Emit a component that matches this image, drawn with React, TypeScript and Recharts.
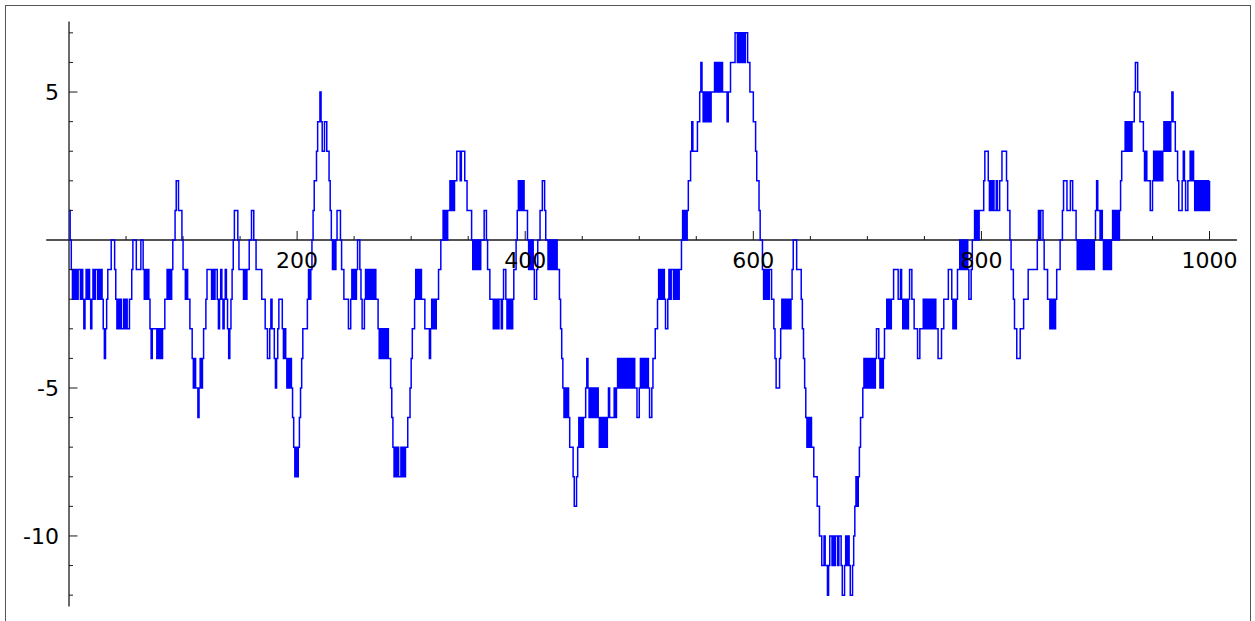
import React from 'react';
import { LineChart, Line, XAxis, YAxis, ReferenceLine } from 'recharts';

// Random-walk breakpoints: [step, value], value holds until next step
const walkStart: [number, number][] = [
  [0,1],[1,0],[2,-1],[3,-2],[4,-1],[5,-2],[6,-1],[7,-2],[8,-1],[10,-2],[11,-1],[12,-2],[13,-3],[14,-2],[15,-1],[16,-2],[17,-1],[18,-2],[19,-3],[20,-2],[21,-1],[22,-2],[23,-1],[25,-2],[26,-1],[27,-2],[28,-1],[29,-2],[30,-3],[31,-4],[32,-3],[33,-2],[34,-1],[37,0],[40,-1],[41,-2],[42,-3],[43,-2],[44,-3],[45,-2],[46,-3],[48,-2],[49,-3],[50,-2],[51,-3],[53,-2],
  [55,-1],[56,0],[59,-1],[63,0],[65,-1],[66,-2],[67,-1],[68,-2],[69,-1],[70,-2],[71,-3],[72,-4],[73,-3],[77,-4],[78,-3],[79,-4],[80,-3],[81,-4],[82,-3],[84,-2],[86,-1],[87,-2],[88,-1],[89,-2],[90,-1],[91,0],[93,1],[94,2],[96,1],[99,0],[100,-1],[102,-2],[103,-1],[104,-2],[106,-3],[108,-4],[109,-5],[110,-4],[111,-5],[113,-6],[114,-5],[115,-4],[116,-5],[117,-4],[118,-3],[120,-2],[121,-1],[125,-2],[126,-1],[127,-2],[128,-1],[130,-2],[131,-3],[132,-2],[133,-1],[134,-2],[135,-3],[136,-2],[137,-1],[138,-2],[139,-3],[140,-4],[141,-3],[142,-2],[143,-1],[144,0],[145,1],[148,0],
];
const walkEarly: [number, number][] = [
  [149,-1],[153,-2],[154,-1],[155,-2],[156,-1],[158,0],[160,1],[162,0],[164,-1],[169,-2],[172,-3],[174,-4],[176,-3],[177,-2],[178,-3],[180,-4],[181,-5],[182,-4],[183,-3],[184,-2],[187,-3],[188,-4],[189,-3],[190,-4],[191,-5],[192,-4],[193,-5],[194,-4],[195,-5],[196,-6],[197,-7],[198,-8],[199,-7],[200,-8],[201,-7],[202,-6],[203,-5],[204,-4],[205,-3],[209,-2],[210,-1],[211,-2],[212,-1],[213,0],[214,1],[215,2],[217,3],[218,4],[220,5],[221,4],[222,3],[224,4],[226,3],[228,2],[229,1],[230,0],[231,-1],[232,0],[233,-1],[234,0],[235,1],[238,0],[239,-1],[241,-2],
  [245,-3],[247,-2],[248,-1],[249,-2],[250,-1],[251,-2],[252,-1],[253,0],[255,-1],[256,-2],[257,-3],[259,-2],[260,-1],[261,-2],[262,-1],[263,-2],[264,-1],[265,-2],[266,-1],[267,-2],[268,-1],[269,-2],[271,-3],[272,-4],[273,-3],[274,-4],[275,-3],[276,-4],[277,-3],[278,-4],[279,-3],[280,-4],[282,-5],[283,-6],[284,-7],[285,-8],[286,-7],[287,-8],[288,-7],[289,-8],[291,-7],[292,-8],[293,-7],[294,-8],[295,-7],[297,-6],[299,-5],[300,-4],[301,-3],[303,-2],[304,-1],[305,-2],[306,-1],[307,-2],[308,-1],[309,-2],[312,-3],[316,-4],[317,-3],[318,-2],[319,-3],[320,-2],[321,-3],[322,-2],[324,-1],[326,0],[328,1],[329,0],[330,1],[331,0],[332,1],[334,2],[335,1],[336,2],[337,1],[338,2],[340,3],
];
const walkMiddle: [number, number][] = [
  [343,2],[344,3],[347,2],[349,1],[353,0],[354,-1],[355,0],[356,-1],[357,0],[358,-1],[359,0],[360,-1],[361,0],[364,1],[366,0],[367,-1],[369,-2],[372,-3],[373,-2],[374,-3],[375,-2],[376,-3],[377,-2],[379,-3],[380,-2],[381,-1],[383,-2],[384,-3],[385,-2],[386,-3],[387,-2],[388,-3],[389,-2],[390,-1],[392,0],[393,1],[394,2],[395,1],[396,2],[397,1],[398,2],[399,1],[402,0],[403,-1],[404,0],[405,-1],[406,0],[407,-1],[408,-2],[410,-1],[411,0],[413,1],[415,2],[417,1],[418,0],[420,-1],[421,0],[422,-1],[423,0],[424,-1],[425,0],[426,-1],[427,0],[428,-1],
  [430,-2],[431,-3],[432,-4],[433,-5],[434,-6],[435,-5],[436,-6],[437,-5],[438,-6],[439,-7],[442,-8],[443,-9],[445,-8],[446,-7],[447,-6],[448,-7],[449,-6],[450,-7],[451,-6],[453,-5],[454,-4],[455,-5],[456,-6],[457,-5],[458,-6],[459,-5],[460,-6],[461,-5],[462,-6],[463,-5],[464,-6],[465,-7],[466,-6],[467,-7],[468,-6],[469,-7],[470,-6],[471,-7],[472,-6],[473,-5],[474,-6],[478,-5],[479,-6],[480,-5],[481,-4],[482,-5],[483,-4],[484,-5],[485,-4],[486,-5],[487,-4],[488,-5],[489,-4],[490,-5],[491,-4],[492,-5],[493,-4],[494,-5],[495,-4],[496,-5],[498,-6],[500,-5],[501,-4],[502,-5],[503,-4],[504,-5],[505,-4],[506,-5],[507,-4],[508,-5],[509,-6],[511,-5],[512,-4],[514,-3],[516,-2],[517,-1],[518,-2],[519,-1],[520,-2],[521,-1],[522,-2],[523,-3],[525,-2],[526,-1],[527,-2],[528,-1],[530,-2],[531,-1],[532,-2],[533,-1],[534,-2],[535,-1],
  [537,0],[538,1],[539,0],[540,1],[541,0],[542,1],[543,2],[545,3],[546,4],[547,3],[551,4],[553,5],[554,6],[555,5],[556,4],[557,5],[558,4],[559,5],[560,4],[561,5],[562,4],[563,5],[566,6],[567,5],[568,6],[569,5],[570,6],[571,5],[572,6],[573,5],[577,4],[578,5],[580,6],[584,7],[586,6],[587,7],[588,6],[589,7],[590,6],[591,7],[592,6],[593,7],[595,6],[597,5],[600,4],[602,3],[603,2],[605,1],[606,0],[608,-1],[609,-2],[610,-1],[611,-2],[612,-1],[613,-2],[614,-1],
];
const walkLate: [number, number][] = [
  [616,-2],[618,-3],[619,-4],[620,-5],[623,-4],[624,-3],[625,-2],[626,-3],[627,-2],[628,-3],[629,-2],[630,-3],[631,-2],[632,-3],[633,-2],[634,-1],[635,0],[638,-1],[642,-2],[643,-3],[644,-4],[645,-5],[646,-6],[647,-7],[648,-6],[649,-7],[650,-6],[651,-7],[653,-8],[656,-9],[658,-10],[660,-11],[662,-10],[663,-11],[665,-12],[666,-11],[667,-10],[669,-11],[670,-10],[671,-11],[672,-10],[674,-11],[675,-10],[677,-11],[678,-12],[680,-11],[681,-10],[682,-11],[683,-10],[684,-11],[685,-12],[687,-11],[688,-10],[689,-9],[690,-8],[691,-9],[692,-8],[693,-7],[694,-6],[695,-6],[696,-5],[697,-4],[698,-5],[699,-4],[700,-5],[701,-4],[702,-5],[703,-4],[704,-5],[705,-4],[706,-5],[707,-4],[708,-3],[710,-4],[711,-5],[712,-4],[713,-5],[714,-4],[715,-3],[717,-2],[718,-3],[719,-2],[720,-3],[721,-2],[723,-1],[727,-2],
  [729,-1],[730,-2],[731,-3],[732,-2],[733,-3],[734,-2],[735,-3],[736,-2],[737,-1],[739,-2],[741,-3],[744,-4],[746,-3],[749,-2],[750,-3],[751,-2],[752,-3],[753,-2],[754,-3],[755,-2],[756,-3],[757,-2],[758,-3],[759,-2],[760,-3],[762,-4],[765,-3],[767,-2],[771,-1],[774,-2],[775,-3],[776,-2],[777,-3],[778,-2],[779,-1],[781,0],[782,-1],[783,0],[784,-1],[785,0],[786,-1],[787,0],[788,-1],[789,-2],[791,-1],[792,0],[794,1],[795,0],[796,1],[797,0],[798,1],[802,2],[803,3],[806,2],[807,1],[808,2],[809,1],[810,2],[811,1],[813,2],[814,1],[816,2],[818,3],[822,2],[823,1],[825,0],[826,-1],[828,-2],[829,-3],
];
const walkEnd: [number, number][] = [
  [831,-4],[834,-3],[837,-2],[841,-1],[849,0],[850,1],[851,0],[852,1],[854,0],[855,-1],[858,-2],[860,-3],[861,-2],[862,-3],[863,-2],[864,-3],[865,-2],[866,-1],[869,0],[871,1],[872,2],[875,1],[878,2],[880,1],[883,0],[884,-1],[885,0],[886,-1],[887,0],[888,-1],[889,0],[890,-1],[891,0],[892,-1],[893,0],[894,-1],[895,0],[896,-1],[897,0],[898,-1],[899,0],[900,1],[901,2],[902,1],[904,0],[905,1],[906,0],[907,-1],[908,0],[909,-1],[910,0],[911,-1],[912,0],[913,-1],[914,0],[915,1],[916,0],[917,1],[918,0],[919,1],[920,0],[921,1],[922,2],[923,3],[926,4],
  [927,3],[928,4],[929,3],[930,4],[931,3],[932,4],[934,5],[935,6],[937,5],[939,4],[942,3],[943,2],[944,3],[945,2],[948,1],[950,2],[951,3],[952,2],[953,3],[954,2],[955,3],[956,2],[957,3],[958,2],[959,3],[960,4],[961,3],[962,4],[963,3],[964,4],[965,3],[966,4],[967,5],[968,4],[970,3],[972,2],[973,1],[976,2],[977,3],[978,2],[979,1],[981,2],[983,3],[984,2],[985,3],[986,2],[987,1],[988,2],[989,1],[990,2],[991,1],[992,2],[993,1],[994,2],[995,1],[996,2],[997,1],[998,2],[999,1],[1000,2],
];

const xTicks = [50,100,150,200,250,300,350,400,450,500,550,600,650,700,750,800,850,900,950,1000];
const xLabelTicks = [200,400,600,800,1000];
const yTicks = [-12,-11,-10,-9,-8,-7,-6,-5,-4,-3,-2,-1,1,2,3,4,5,6,7];
const yLabelTicks = [5,-5,-10];

const data = [...walkStart, ...walkEarly, ...walkMiddle, ...walkLate, ...walkEnd].map(([x, y]) => ({ x, y }));

const W = 1255;
const H = 621;
const X_DOMAIN: [number, number] = [-20, 1024];
const Y_DOMAIN: [number, number] = [-12.38, 7.38];
const MARGIN = { top: 21.6, right: 18.1, bottom: 14.6, left: 46.2 };
const PLOT_W = W - MARGIN.left - MARGIN.right;
const PLOT_H = H - MARGIN.top - MARGIN.bottom;
const ZERO_X = MARGIN.left + ((0 - X_DOMAIN[0]) / (X_DOMAIN[1] - X_DOMAIN[0])) * PLOT_W;
const ZERO_Y = MARGIN.top + ((Y_DOMAIN[1] - 0) / (Y_DOMAIN[1] - Y_DOMAIN[0])) * PLOT_H;

const FONT = 'DejaVu Sans, sans-serif';
const AXIS = '#1a1a1a';

const XTick = (props: any) => {
  const { x, payload } = props;
  const v = payload.value as number;
  const major = xLabelTicks.includes(v);
  return (
    <g>
      <line x1={x} x2={x} y1={ZERO_Y} y2={ZERO_Y - (major ? 9 : 4)} stroke={AXIS} strokeWidth={1} />
      {major && (
        <text x={x} y={ZERO_Y + 28} textAnchor="middle" fontFamily={FONT} fontSize={22} fill="#000">
          {v}
        </text>
      )}
    </g>
  );
};

const YTick = (props: any) => {
  const { y, payload } = props;
  const v = payload.value as number;
  const major = yLabelTicks.includes(v);
  return (
    <g>
      <line x1={ZERO_X} x2={ZERO_X + (major ? 8.5 : 4)} y1={y} y2={y} stroke={AXIS} strokeWidth={1} />
      {major && (
        <text x={ZERO_X - 10} y={y + 8} textAnchor="end" fontFamily={FONT} fontSize={22} fill="#000">
          {v}
        </text>
      )}
    </g>
  );
};

export default function App() {
  return (
    <div style={{ position: 'absolute', left: 0, top: 0, width: W, height: H, background: '#fff', overflow: 'hidden' }}>
      <div
        style={{
          position: 'absolute',
          left: 5,
          top: 5,
          width: 1246,
          height: 640,
          border: '1px solid #555',
          boxSizing: 'border-box',
        }}
      />
      <LineChart width={W} height={H} data={data} margin={MARGIN}>
        <XAxis
          dataKey="x"
          type="number"
          domain={X_DOMAIN}
          allowDataOverflow
          ticks={xTicks}
          interval={0}
          mirror
          axisLine={false}
          tickLine={false}
          tick={XTick}
        />
        <YAxis
          type="number"
          domain={Y_DOMAIN}
          allowDataOverflow
          ticks={yTicks}
          interval={0}
          mirror
          axisLine={false}
          tickLine={false}
          tick={YTick}
        />
        <ReferenceLine y={0} stroke={AXIS} strokeWidth={1.3} />
        <ReferenceLine x={0} stroke={AXIS} strokeWidth={1.3} />
        <Line
          dataKey="y"
          type="stepAfter"
          stroke="#0000ff"
          strokeWidth={1.5}
          dot={false}
          isAnimationActive={false}
        />
      </LineChart>
    </div>
  );
}
